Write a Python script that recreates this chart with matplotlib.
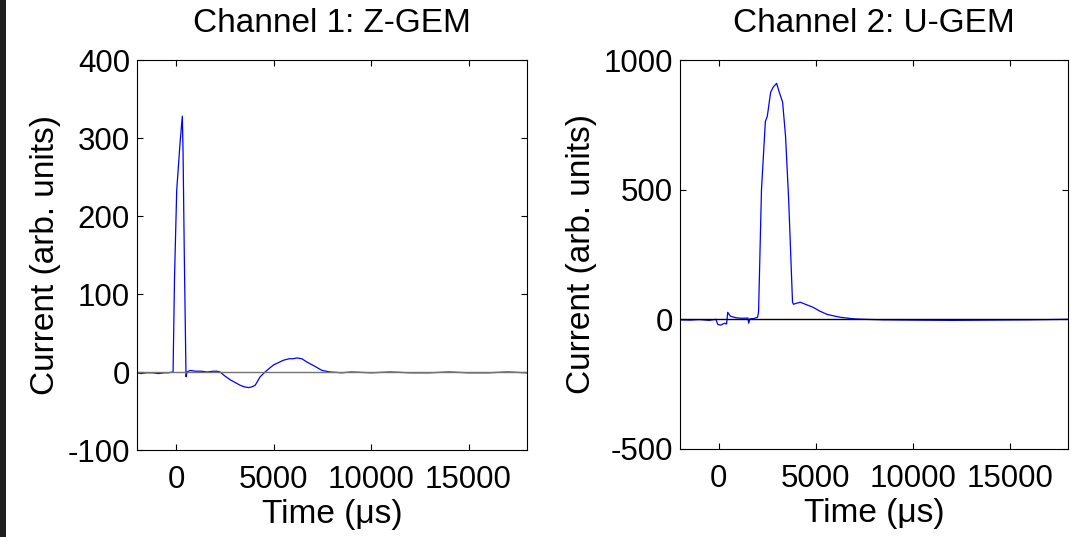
import matplotlib
matplotlib.use('Agg')
import matplotlib.pyplot as plt
from matplotlib.patches import Rectangle

plt.rcParams['font.family'] = ['Liberation Sans', 'DejaVu Sans']
plt.rcParams['axes.unicode_minus'] = False

# Channel 1 (Z-GEM) trace
t_ch1 = [-2000, -1800, -1500, -1200, -900, -600, -400, -150, -77, 36, 206, 324, 360, 427, 514, 565,
         720, 1000, 1300, 1600, 1900, 2100, 2260, 2500, 2780, 3000, 3290, 3500, 3720, 3900, 4060,
         4320, 4570, 4800, 5000, 5250, 5500, 5800, 6000, 6200, 6450, 6700, 7140, 7490, 7900, 8500,
         9000, 10000, 11000, 12000, 13000, 14000, 15000, 16000, 17000, 18000]
i_ch1 = [-1, -2, -1, -1, -2, -1, -1, 0, 120, 233, 293, 328, 285, 147, -6, 0,
         2, 1, 1, 0, 1, 1, 0, -5, -10, -13, -17, -19, -20, -19, -17,
         -6, 0, 5, 9, 12, 15, 17, 17, 18, 17, 13, 7, 2, 0, -1,
         0, -1, 0, -1, -1, 0, -1, -1, 0, -1]

# Channel 2 (U-GEM) trace
t_ch2 = [-2000, -1500, -1000, -500, -150, -50, 100, 300, 400, 460, 600, 900, 1200, 1500, 1540, 1600,
         1800, 2000, 2050, 2200, 2400, 2500, 2670, 2800, 2980, 3100, 3290, 3440, 3600, 3800, 3850,
         4000, 4200, 4500, 4870, 5200, 5580, 6000, 6260, 6930, 7500, 8500, 10000, 12000, 14000,
         16000, 18000]
i_ch2 = [-2, -3, -1, -4, 0, -20, -22, -15, -18, 27, 12, 6, 4, 5, -15, 2,
         3, 8, 30, 500, 763, 783, 875, 895, 910, 880, 837, 706, 463, 66, 58,
         62, 66, 57, 46, 32, 19, 12, 8, 2, 0, -2, -3, -4, -3, -2, 0]

xticks = [0, 5000, 10000, 15000]
yticks_ch1 = [-100, 0, 100, 200, 300, 400]
yticks_ch2 = [-500, 0, 500, 1000]

fig = plt.figure(figsize=(10.85, 5.37), dpi=100)
fig.patches.append(Rectangle((0, 0), 6 / 1085, 1, transform=fig.transFigure,
                             facecolor='#1e1e1e', edgecolor='none'))

ax1 = fig.add_axes([137 / 1085, 1 - 450 / 537, 390 / 1085, 390 / 537])
ax2 = fig.add_axes([680 / 1085, 1 - 449 / 537, 388 / 1085, 389 / 537])

panels = [
    (ax1, t_ch1, i_ch1, 'Channel 1: Z-GEM', (-100, 400), yticks_ch1, '0.45'),
    (ax2, t_ch2, i_ch2, 'Channel 2: U-GEM', (-500, 1000), yticks_ch2, 'black'),
]

for ax, t, cur, title, ylim, yt, zcol in panels:
    ax.plot(t, cur, color='blue', linewidth=0.9)
    ax.axhline(0, color=zcol, linewidth=1.0)
    ax.set_xlim(-2000, 18000)
    ax.set_ylim(*ylim)
    ax.set_xticks(xticks)
    ax.set_yticks(yt)
    ax.tick_params(direction='in', top=True, right=True, labelsize=22.5, length=4, width=0.8)
    ax.tick_params(axis='x', pad=11)
    ax.tick_params(axis='y', pad=5)
    ax.set_title(title, fontsize=24, pad=20)
    ax.set_xlabel('Time (\u03bcs)', fontsize=24, labelpad=3)
    ax.set_ylabel('Current (arb. units)', fontsize=24, labelpad=5)
    for s in ax.spines.values():
        s.set_linewidth(0.8)

fig.savefig('out.png', dpi=100)
